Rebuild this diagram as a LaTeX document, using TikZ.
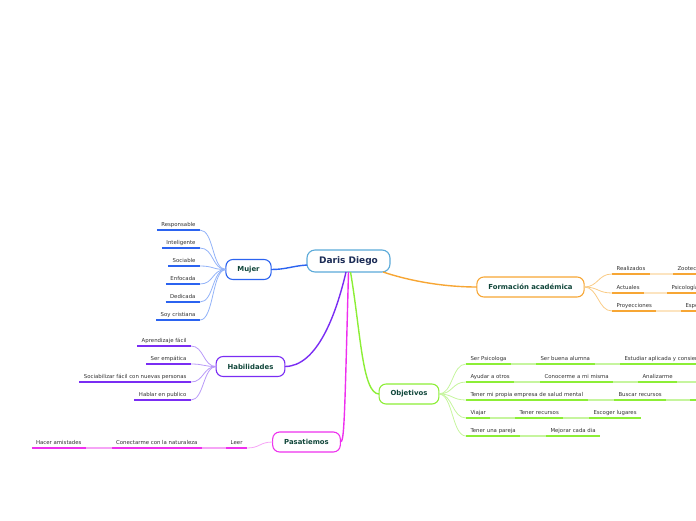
\documentclass[tikz,border=0pt]{standalone}
\usepackage{fontspec}
\setmainfont{DejaVu Sans}
\definecolor{cBlue}{HTML}{2B63F0}
\definecolor{cBlueL}{HTML}{93B3F8}
\definecolor{cPur}{HTML}{7A2DF3}
\definecolor{cPurL}{HTML}{B99AF8}
\definecolor{cOr}{HTML}{F7A634}
\definecolor{cOrL}{HTML}{F9CB85}
\definecolor{cOrXL}{HTML}{FCE4C0}
\definecolor{cGr}{HTML}{8CEE36}
\definecolor{cGrL}{HTML}{C6F59E}
\definecolor{cMag}{HTML}{EE30EE}
\definecolor{cMagL}{HTML}{F6A4F6}
\definecolor{cCen}{HTML}{5BAAD9}
\definecolor{leaftext}{HTML}{333333}
\definecolor{topictext}{HTML}{10463A}
\definecolor{centext}{HTML}{1B2B55}
\begin{document}
\begin{tikzpicture}[x=1pt,y=-1pt,
  leaf/.style={font=\fontsize{5.4}{6.5}\selectfont, text=leaftext, inner xsep=4.5pt, inner ysep=2pt,
    text height=4pt, text depth=1.3pt, outer sep=0pt,
    append after command={(\tikzlastnode.south west) edge[draw=#1, line width=1.8pt] (\tikzlastnode.south east)}},
  topic/.style={draw=#1, line width=1.1pt, rounded corners=7pt, fill=white,
    font=\fontsize{6.9}{8}\selectfont\bfseries, text=topictext, inner xsep=11.5pt, inner ysep=0pt,
    minimum height=20pt, outer sep=0pt},
  branch/.style={draw=#1, line width=1.4pt},
  twig/.style={draw=#1, line width=0.8pt},
  chain/.style={draw=#1, line width=1.3pt}]
\useasboundingbox (0,0) rectangle (696,520);
\clip (0,0) rectangle (696,520);

% central and main topics
\node[draw=cCen, line width=1.1pt, rounded corners=8pt, fill=white,
  font=\fontsize{9}{10}\selectfont\bfseries, text=centext,
  minimum width=83pt, minimum height=22pt, inner sep=0pt, outer sep=0pt] (c) at (348.5,261) {Daris Diego};
\node[topic=cBlue] (mujer) at (248.5,269.5) {Mujer};
\node[topic=cOr] (form) at (530.5,287) {Formación académica};
\node[topic=cPur] (hab) at (250.5,366.5) {Habilidades};
\node[topic=cGr] (obj) at (409,394) {Objetivos};
\node[topic=cMag] (pas) at (306.5,442) {Pasatiemos};

% branches
\draw[branch=cBlue] ([yshift=-4pt]c.west) .. controls +(-15,1) and +(15,0) .. (mujer.east);
\draw[branch=cPur] ([xshift=-2.5pt]c.south) .. controls +(-10,43) and +(32,0) .. (hab.east);
\draw[branch=cMag] (c.south) .. controls +(-4,150) and +(4,0) .. (pas.east);
\draw[branch=cGr] ([xshift=2pt]c.south) .. controls +(10,58) and +(-17,0) .. (obj.west);
\draw[branch=cOr] ([xshift=-7pt]c.south east) .. controls +(30,10) and +(-30,0) .. (form.west);

% Mujer
\node[leaf=cBlue, anchor=south east] (m1) at (200,230) {Responsable};
\node[leaf=cBlue, anchor=south east] (m2) at (200,248) {Inteligente};
\node[leaf=cBlue, anchor=south east] (m3) at (200,266) {Sociable};
\node[leaf=cBlue, anchor=south east] (m4) at (200,284) {Enfocada};
\node[leaf=cBlue, anchor=south east] (m5) at (200,302) {Dedicada};
\node[leaf=cBlue, anchor=south east] (m6) at (200,320) {Soy cristiana};
\foreach \n in {m1,m2,m3,m4,m5,m6}
  \draw[twig=cBlueL] (mujer.west) .. controls +(-14,0) and +(14,0) .. (\n.south east);

% Habilidades
\node[leaf=cPur, anchor=south east] (h1) at (191,346) {Aprendizaje fácil};
\node[leaf=cPur, anchor=south east] (h2) at (191,364) {Ser empática};
\node[leaf=cPur, anchor=south east] (h3) at (191,382) {Sociabilizar fácil con nuevas personas};
\node[leaf=cPur, anchor=south east] (h4) at (191,400) {Hablar en publico};
\foreach \n in {h1,h2,h3,h4}
  \draw[twig=cPurL] (hab.west) .. controls +(-13,0) and +(13,0) .. (\n.south east);

% Formacion academica
\node[leaf=cOr, anchor=south west] (f1) at (612,274) {Realizados};
\node[leaf=cOr, anchor=south west] (f2) at (612,293) {Actuales};
\node[leaf=cOr, anchor=south west] (f3) at (612,311) {Proyecciones};
\node[leaf=cOr, anchor=south west] (f1b) at (673,274) {Zootecnia};
\node[leaf=cOr, anchor=south west] (f2b) at (667,293) {Psicología};
\node[leaf=cOr, anchor=south west] (f3b) at (681,311) {Especialización};
\foreach \n in {f1,f2,f3}
  \draw[twig=cOrL] (form.east) .. controls +(14,0) and +(-14,0) .. (\n.south west);
\draw[chain=cOrXL] (f1.south east) -- (f1b.south west);
\draw[chain=cOrXL] (f2.south east) -- (f2b.south west);
\draw[chain=cOrXL] (f3.south east) -- (f3b.south west);

% Objetivos
\node[leaf=cGr, anchor=south west] (o1) at (466,364) {Ser Psicologa};
\node[leaf=cGr, anchor=south west] (o1b) at (536,364) {Ser buena alumna};
\node[leaf=cGr, anchor=south west] (o1c) at (620,364) {Estudiar aplicada y consientemente};
\node[leaf=cGr, anchor=south west] (o2) at (466,382) {Ayudar a otros};
\node[leaf=cGr, anchor=south west] (o2b) at (540,382) {Conocerme a mi misma};
\node[leaf=cGr, anchor=south west] (o2c) at (638,382) {Analizarme};
\node[leaf=cGr, anchor=south west] (o3) at (466,400) {Tener mi propia empresa de salud mental};
\node[leaf=cGr, anchor=south west] (o3b) at (614,400) {Buscar recursos};
\node[leaf=cGr, anchor=south west] (o4) at (466,418) {Viajar};
\node[leaf=cGr, anchor=south west] (o4b) at (515,418) {Tener recursos};
\node[leaf=cGr, anchor=south west] (o4c) at (589,418) {Escoger lugares};
\node[leaf=cGr, anchor=south west] (o5) at (466,436) {Tener una pareja};
\node[leaf=cGr, anchor=south west] (o5b) at (546,436) {Mejorar cada dia};
\coordinate (o2x) at (702,382);
\coordinate (o3x) at (690,400);
\coordinate (o3y) at (702,400);
\foreach \n in {o1,o2,o3,o4,o5}
  \draw[twig=cGrL] (obj.east) .. controls +(14,0) and +(-14,0) .. (\n.south west);
\draw[chain=cGrL] (o1.south east) -- (o1b.south west);
\draw[chain=cGrL] (o1b.south east) -- (o1c.south west);
\draw[chain=cGrL] (o2.south east) -- (o2b.south west);
\draw[chain=cGrL] (o2b.south east) -- (o2c.south west);
\draw[chain=cGrL] (o2c.south east) -- (o2x);
\draw[chain=cGrL] (o3.south east) -- (o3b.south west);
\draw[chain=cGrL] (o3b.south east) -- (o3x);
\draw[draw=cGr, line width=1.8pt] (o3x) -- (o3y);
\draw[chain=cGrL] (o4.south east) -- (o4b.south west);
\draw[chain=cGrL] (o4b.south east) -- (o4c.south west);
\draw[chain=cGrL] (o5.south east) -- (o5b.south west);

% Pasatiemos
\node[leaf=cMag, anchor=south east] (p1) at (247,448) {Leer};
\node[leaf=cMag, anchor=south east] (p2) at (202,448) {Conectarme con la naturaleza};
\node[leaf=cMag, anchor=south east] (p3) at (86,448) {Hacer amistades};
\draw[twig=cMagL] (pas.west) .. controls +(-13,0) and +(13,0) .. (p1.south east);
\draw[chain=cMagL] (p1.south west) -- (p2.south east);
\draw[chain=cMagL] (p2.south west) -- (p3.south east);
\end{tikzpicture}
\end{document}
